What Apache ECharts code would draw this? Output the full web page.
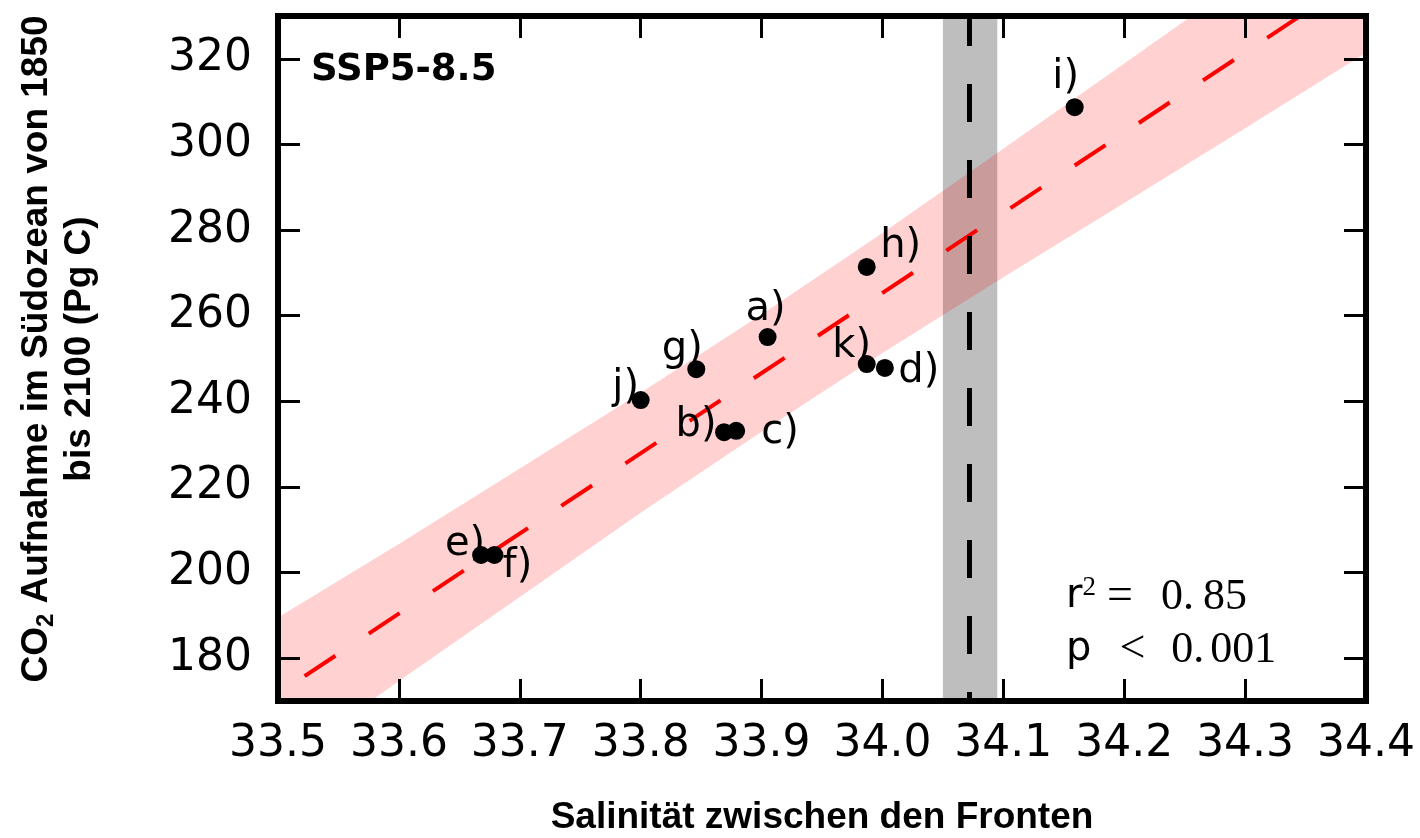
<!DOCTYPE html>
<html>
<head>
<meta charset="utf-8">
<script src="https://cdn.jsdelivr.net/npm/echarts@6/dist/echarts.min.js"></script>
<style>html,body{margin:0;padding:0;background:#fff}#c{width:1420px;height:838px}</style>
</head>
<body>
<div id="c"></div>
<script>
// ---- data ----
const modelLabels = ['a)', 'b)', 'c)', 'd)', 'e)', 'f)', 'g)', 'h)', 'i)', 'j)', 'k)'];
const salinity    = [33.905, 33.869, 33.879, 34.002, 33.668, 33.679, 33.846, 33.987, 34.159, 33.800, 33.987];
const uptake      = [255.0, 232.8, 233.1, 247.8, 204.1, 204.1, 247.5, 271.4, 308.7, 240.3, 248.7];

const fitX = [33.522, 34.4];
const fitY = [175.8, 340.2];

const bandX     = [33.5, 33.6, 33.7, 33.8, 33.9, 34.0, 34.1, 34.2, 34.3, 34.4];
const bandUpper = [189.5, 206.7, 224.3, 242.0, 260.3, 279.3, 299.0, 318.9, 338.8, 358.4];
const bandLower = [154.5, 174.7, 194.3, 214.0, 232.9, 251.3, 269.0, 286.3, 303.8, 321.4];

const frontBand = [34.05, 34.095];
const frontMean = [34.072];

const xTicks = [33.5, 33.6, 33.7, 33.8, 33.9, 34.0, 34.1, 34.2, 34.3, 34.4];
const yTicks = [180, 200, 220, 240, 260, 280, 300, 320];
const xRange = [33.5, 34.4];
const yRange = [170, 330];

const scenario = 'SSP5-8.5';
const xTitle = 'Salinität zwischen den Fronten';
const r2Int = '0.', r2Frac = '85';
const pInt = '0.', pFrac = '001';

// ---- styling (not data) ----
const labelOffsets = [[-2,-27],[-28,-7],[44,2],[34,4],[-16,-10],[23,12],[-14,-20],[34,-20],[-9,-30],[-15,-12],[-15,-17]];

const chart = echarts.init(document.getElementById('c'));

function xAxisDef(pos, showLabel) {
  return {
    type: 'value', min: xRange[0], max: xRange[1], position: pos, z: 10,
    axisLine: {show: true, onZero: false, lineStyle: {color: '#000', width: 6, cap: 'square'}},
    axisTick: {show: true, inside: true, length: 22, customValues: xTicks, lineStyle: {color: '#000', width: 3}},
    axisLabel: {show: showLabel, customValues: xTicks, formatter: v => v.toFixed(1), margin: 22,
                color: '#000', fontSize: 44, fontFamily: 'DejaVu Sans'},
    splitLine: {show: false}
  };
}
function yAxisDef(pos, showLabel) {
  return {
    type: 'value', min: yRange[0], max: yRange[1], position: pos, z: 10,
    axisLine: {show: true, onZero: false, lineStyle: {color: '#000', width: 6, cap: 'square'}},
    axisTick: {show: true, inside: true, length: 22, customValues: yTicks, lineStyle: {color: '#000', width: 3}},
    axisLabel: {show: showLabel, customValues: yTicks, margin: 26,
                color: '#000', fontSize: 44, fontFamily: 'DejaVu Sans'},
    splitLine: {show: false}
  };
}

const points = salinity.map((x, i) => [x, uptake[i]]);
const labelData = salinity.map((x, i) => ({
  value: [x, uptake[i]],
  label: {show: true, formatter: modelLabels[i], position: 'inside', offset: labelOffsets[i], color: '#000'}
}));

const serif = 'Liberation Serif';
const option = {
  animation: false,
  backgroundColor: '#fff',
  grid: {left: 278, right: 54, top: 16, bottom: 137, containLabel: false},
  xAxis: [xAxisDef('bottom', true), xAxisDef('top', false)],
  yAxis: [yAxisDef('left', true), yAxisDef('right', false)],
  graphic: [
    {type: 'text', x: 311, y: 70, z: 20,
     style: {text: scenario, font: 'bold 37px "DejaVu Sans"', fill: '#000',
             align: 'left', textAlign: 'left', verticalAlign: 'middle', textVerticalAlign: 'middle'}},
    {type: 'text', x: 822, y: 818, z: 20,
     style: {text: xTitle, font: 'bold 37px "Liberation Sans"', fill: '#000',
             align: 'center', textAlign: 'center', verticalAlign: 'middle', textVerticalAlign: 'middle'}},
    {type: 'text', x: 58, y: 349, rotation: Math.PI / 2, z: 20,
     style: {
       text: '{a|CO}{s|2}{a| Aufnahme im Südozean von 1850}\n{a|bis 2100 (Pg C)}',
       fill: '#000', align: 'center', textAlign: 'center', verticalAlign: 'middle', textVerticalAlign: 'middle',
       rich: {
         a: {fontSize: 37, fontWeight: 'bold', fontFamily: 'Liberation Sans', lineHeight: 43},
         s: {fontSize: 24, fontWeight: 'bold', fontFamily: 'Liberation Sans', lineHeight: 24, verticalAlign: 'bottom'}
       }
     }},
    {type: 'text', x: 1066, y: 597, z: 20,
     style: {
       text: '{s|r}{u|2}{eq|=}{m|' + r2Int + '}{n|' + r2Frac + '}',
       fill: '#000', align: 'left', textAlign: 'left', verticalAlign: 'middle', textVerticalAlign: 'middle',
       rich: {
         s: {fontSize: 40, fontFamily: 'DejaVu Sans', lineHeight: 46},
         u: {fontSize: 27, fontFamily: serif, lineHeight: 27, verticalAlign: 'top'},
         eq: {fontSize: 46, fontFamily: serif, lineHeight: 46, padding: [0, 0, 0, 11]},
         m: {fontSize: 44, fontFamily: serif, lineHeight: 46, padding: [0, 0, 0, 28]},
         n: {fontSize: 44, fontFamily: serif, lineHeight: 46, padding: [0, 0, 0, 9]}
       }
     }},
    {type: 'text', x: 1066, y: 650, z: 20,
     style: {
       text: '{s|p}{lt|<}{m|' + pInt + '}{n|' + pFrac + '}',
       fill: '#000', align: 'left', textAlign: 'left', verticalAlign: 'middle', textVerticalAlign: 'middle',
       rich: {
         s: {fontSize: 40, fontFamily: 'DejaVu Sans', lineHeight: 46},
         lt: {fontSize: 46, fontFamily: serif, lineHeight: 46, padding: [0, 0, 0, 28]},
         m: {fontSize: 44, fontFamily: serif, lineHeight: 46, padding: [0, 0, 0, 26]},
         n: {fontSize: 44, fontFamily: serif, lineHeight: 46, padding: [0, 0, 0, 6]}
       }
     }}
  ],
  series: [
    {
      type: 'custom', name: 'front', clip: true, z: 1,
      data: [[frontBand[0], frontBand[1]]],
      renderItem: (params, api) => {
        const p0 = api.coord([api.value(0), yRange[1]]);
        const p1 = api.coord([api.value(1), yRange[0]]);
        return {type: 'rect', shape: {x: p0[0], y: p0[1], width: p1[0] - p0[0], height: p1[1] - p0[1]},
                style: {fill: '#bebebe'}};
      }
    },
    {
      type: 'custom', name: 'band', clip: true, z: 2,
      data: [[bandX[0], bandUpper[0]]],
      renderItem: (params, api) => {
        const pts = [];
        bandX.forEach((x, i) => pts.push(api.coord([x, bandUpper[i]])));
        for (let i = bandX.length - 1; i >= 0; i--) pts.push(api.coord([bandX[i], bandLower[i]]));
        return {type: 'polygon', shape: {points: pts}, style: {fill: 'rgba(255,0,0,0.18)'}};
      }
    },
    {
      type: 'line', name: 'fit', clip: true, z: 3, showSymbol: false, symbol: 'none',
      data: fitX.map((x, i) => [x, fitY[i]]),
      lineStyle: {color: '#ff0000', width: 4, type: [37, 40]}
    },
    {
      type: 'line', name: 'frontMean', clip: true, z: 4, showSymbol: false, symbol: 'none',
      data: [[frontMean[0], yRange[0]], [frontMean[0], yRange[1]]],
      lineStyle: {color: '#000', width: 5, type: [38, 38], dashOffset: 29}
    },
    {
      type: 'scatter', name: 'labels', z: 5, symbolSize: 0, silent: true,
      itemStyle: {opacity: 1},
      data: labelData,
      label: {color: '#000', fontSize: 40, fontFamily: 'DejaVu Sans', align: 'center', verticalAlign: 'middle'}
    },
    {
      type: 'scatter', name: 'models', z: 6, symbolSize: 18,
      itemStyle: {color: '#000', opacity: 1},
      data: points
    }
  ]
};
chart.setOption(option);
</script>
</body>
</html>
